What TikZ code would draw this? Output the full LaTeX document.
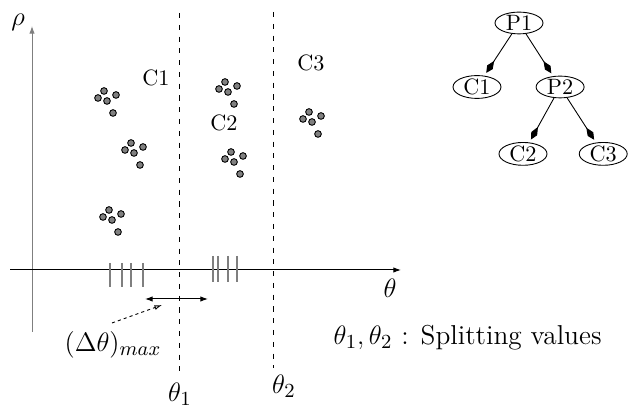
\documentclass[tikz,border=0pt]{standalone}
\usepackage{tikz}
\usetikzlibrary{arrows.meta,positioning,shapes.geometric}
\definecolor{axisgray}{HTML}{7F7F7F}
\definecolor{dotgray}{HTML}{808080}

\begin{document}
\begin{tikzpicture}[
  x=0.45pt, y=-0.45pt,
  axis/.style={line width=0.45pt, -{Latex[length=3.4pt,width=2.4pt]}},
  split/.style={line width=0.4pt, dash pattern=on 2.3pt off 3pt},
  tickmark/.style={axisgray, line width=0.6pt},
  sample/.style={draw, fill=dotgray, line width=0.4pt},
  cell/.style={font=\normalsize, inner sep=1pt},
  mathlabel/.style={font=\fontsize{12.3}{14}\selectfont, inner sep=1pt},
  leaf/.style={draw, ellipse, font=\normalsize, minimum width=21.6pt,
    minimum height=9.8pt, inner sep=0pt},
  branch/.style={line width=0.4pt, -{Kite[length=6.5pt, width=3pt, inset=3.5pt]}, shorten >=1.5pt},
  gap/.style={line width=0.45pt, {Latex[length=3.4pt,width=2.4pt]}-{Latex[length=3.4pt,width=2.4pt]}},
  pointer/.style={line width=0.4pt, dash pattern=on 1.4pt off 1.4pt,
    -{Latex[open, length=3.4pt, width=2.2pt]}}
]
  \useasboundingbox (0,0) rectangle (631,407);

  % axes
  \coordinate (rho0) at (32,332);
  \coordinate (rho1) at (32,26);
  \coordinate (th0) at (10,270);
  \coordinate (th1) at (401,270);
  \draw[axis, axisgray] (rho0) -- (rho1);
  \draw[axis] (th0) -- (th1);
  \node[mathlabel] (rho) at (18,22) {$\rho$};
  \node[mathlabel] (theta) at (390,288) {$\theta$};

  % splitting lines
  \coordinate (s1top) at (179,13);
  \coordinate (s1bot) at (179,373);
  \coordinate (s2top) at (273,12);
  \coordinate (s2bot) at (273,368);
  \draw[split] (s1top) -- (s1bot);
  \draw[split] (s2top) -- (s2bot);
  \node[mathlabel] (t1) at (180,394) {$\theta_1$};
  \node[mathlabel] (t2) at (284,386) {$\theta_2$};

  % projections of the samples on the theta axis
  \foreach \x in {110,122,131,143} \draw[tickmark] (\x,263) -- (\x,287);
  \foreach \x in {213,218,228,237} \draw[tickmark] (\x,256) -- (\x,282);

  % sample clusters, each one the same five points
  \foreach \cx/\cy in {98/98, 125/150, 103/217, 219/89, 225/159, 303/119}
    \foreach \dx/\dy in {0/0, 6/-7, 9/3, 18/-3, 15/15}
      \fill[sample] (\cx+\dx,\cy+\dy) circle[radius=1.5pt];

  \node[cell] (c1) at (156,78) {C1};
  \node[cell] (c2) at (224,123) {C2};
  \node[cell] (c3) at (311,63) {C3};

  % largest gap
  \coordinate (gapl) at (145,299);
  \coordinate (gapr) at (208,299);
  \draw[gap] (gapl) -- (gapr);
  \node[mathlabel] (dmax) at (113,345) {$(\Delta\theta)_{max}$};
  \coordinate (dtail) at (112,323);
  \coordinate (dtip) at (162,305);
  \draw[pointer] (dtail) -- (dtip);

  \node[mathlabel, anchor=west] (legend) at (331,338) {$\theta_1,\theta_2$ : Splitting values};

  % the split tree
  \node[leaf] (P1) at (519,23) {P1};
  \node[leaf, on grid, below left=28.8pt and 18.9pt of P1] (C1) {C1};
  \node[leaf, on grid, below right=28.8pt and 18.5pt of P1] (P2) {P2};
  \node[leaf, on grid, below left=30.1pt and 16.7pt of P2] (C2) {C2};
  \node[leaf, on grid, below right=30.1pt and 19.4pt of P2] (C3) {C3};
  \draw[branch] (P1) -- (C1);
  \draw[branch] (P1) -- (P2);
  \draw[branch] (P2) -- (C2);
  \draw[branch] (P2) -- (C3);
\end{tikzpicture}
\end{document}
